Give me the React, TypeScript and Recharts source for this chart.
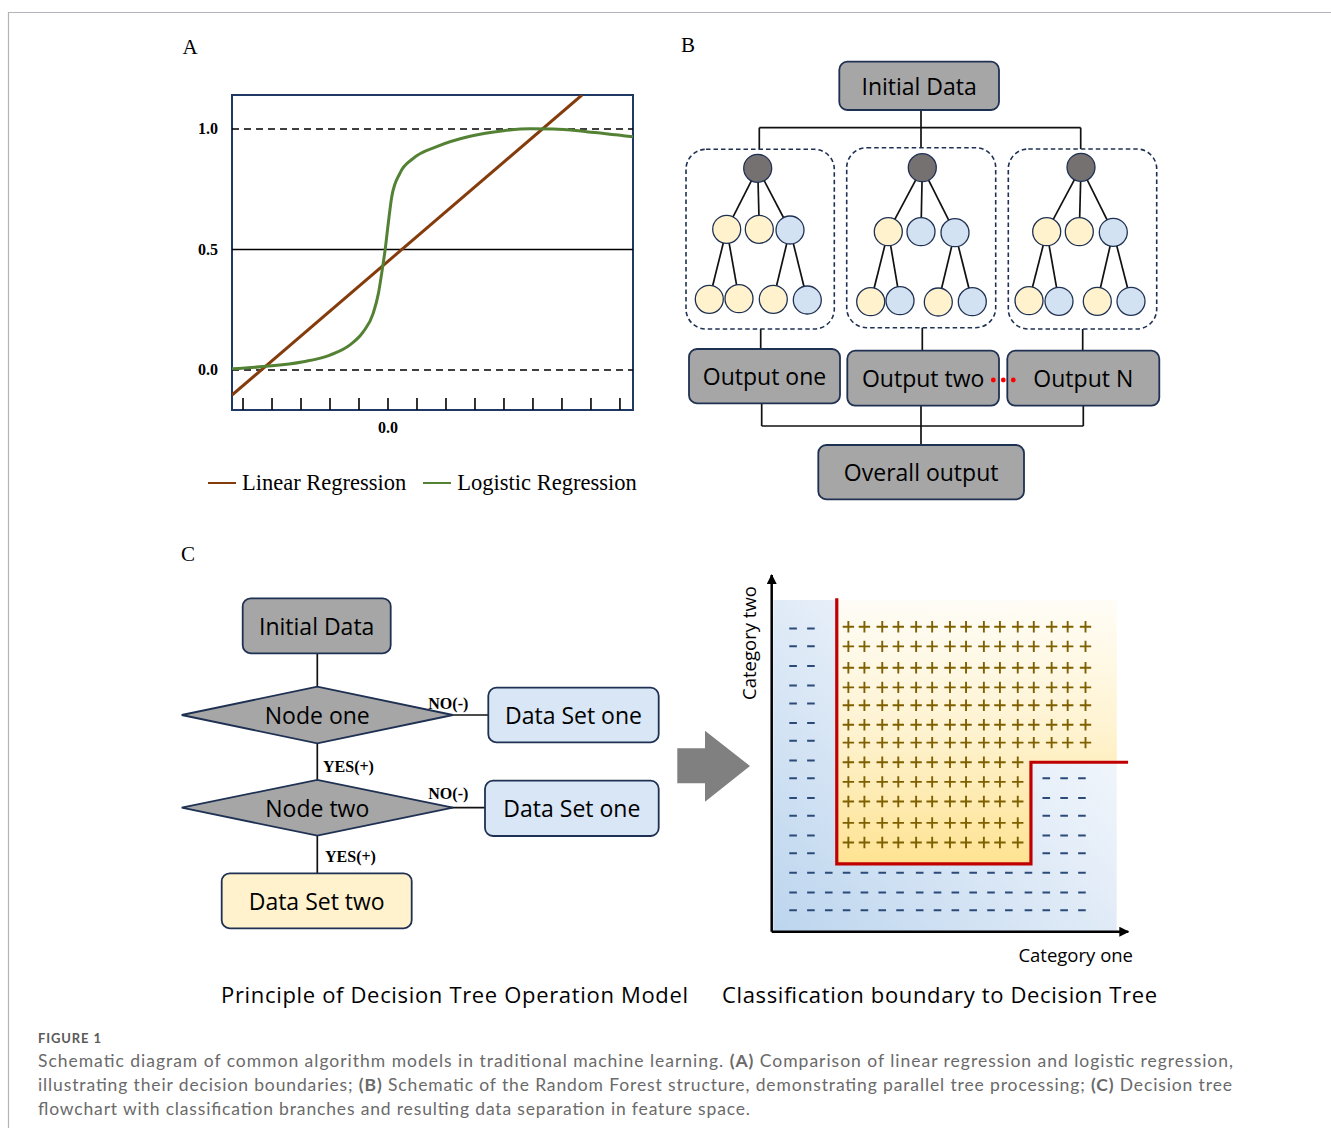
import React from 'react';
import {
  LineChart,
  Line,
  XAxis,
  YAxis,
  ReferenceLine,
  ReferenceArea,
  Legend,
  ScatterChart,
  Scatter,
} from 'recharts';

// ---- Panel A: linear vs logistic regression ----
const linearPoints = [
  { x: -5.38, y: -0.104 },
  { x: 6.69, y: 1.141 },
];
const logisticPoints = [
  { x: -5.38, y: 0.005 },
  { x: -4.3, y: 0.014 },
  { x: -2.92, y: 0.034 },
  { x: -2.0, y: 0.062 },
  { x: -1.31, y: 0.104 },
  { x: -0.85, y: 0.159 },
  { x: -0.51, y: 0.235 },
  { x: -0.33, y: 0.318 },
  { x: -0.2, y: 0.415 },
  { x: -0.1, y: 0.498 },
  { x: 0.01, y: 0.609 },
  { x: 0.13, y: 0.719 },
  { x: 0.41, y: 0.816 },
  { x: 0.87, y: 0.878 },
  { x: 1.68, y: 0.927 },
  { x: 2.83, y: 0.97 },
  { x: 3.98, y: 0.993 },
  { x: 4.9, y: 1.001 },
  { x: 5.7, y: 1.0 },
  { x: 6.85, y: 0.989 },
  { x: 8.45, y: 0.968 },
];
const xTicksA = [-5, -4, -3, -2, -1, 0, 1, 2, 3, 4, 5, 6, 7, 8];
const yTicksA = [0, 0.5, 1];
const xDomainA = [-5.38, 8.45];
const yDomainA = [-0.166, 1.141];

// ---- Panel C: classification grid ----
const plusCols = [4.3, 5.2, 6.2, 7.1, 8.1, 9.0, 10.0, 10.9, 11.9, 12.8, 13.8, 14.7, 15.7, 16.6, 17.6];
const plusRowsWide = [17.1, 16.0, 14.8, 13.7, 12.7, 11.6, 10.6];
const plusRowsNarrow = [9.5, 8.4, 7.3, 6.1, 5.0];
const plusNarrowCount = 11;
const minusLeftCols = [1.2, 2.2];
const minusLeftRows = [17.0, 16.0, 14.9, 13.8, 12.8, 11.7, 10.7, 9.6, 8.6, 7.5, 6.5, 5.4, 4.4];
const minusBottomCols = [1.2, 2.2, 3.2, 4.2, 5.2, 6.2, 7.2, 8.3, 9.3, 10.3, 11.3, 12.3, 13.3, 14.4, 15.4, 16.4, 17.4];
const minusBottomRows = [3.3, 2.2, 1.2];
const minusRightCols = [15.4, 16.4, 17.4];
const minusRightRows = [8.6, 7.5, 6.5, 5.4, 4.4];
const boundary = [
  { x: 3.65, y: 18.7 },
  { x: 3.65, y: 3.8 },
  { x: 14.54, y: 3.8 },
  { x: 14.54, y: 9.5 },
  { x: 20, y: 9.5 },
];

const grid = (cols: number[], rows: number[]) => rows.flatMap(y => cols.map(x => ({ x, y })));
const plusPoints = [...grid(plusCols, plusRowsWide), ...grid(plusCols.slice(0, plusNarrowCount), plusRowsNarrow)];
const minusPoints = [
  ...grid(minusLeftCols, minusLeftRows),
  ...grid(minusBottomCols, minusBottomRows),
  ...grid(minusRightCols, minusRightRows),
];

// ---- Diagram nodes (panel B and C) ----
const forestTrees = [
  {
    root: [757.7, 168.3],
    mid: [[726.7, 229.3, 'c'], [759.3, 229.3, 'c'], [790, 230, 'b']],
    leaves: [[709.3, 299.3, 'c'], [739, 298.7, 'c'], [773.3, 299.3, 'c'], [807.3, 300, 'b']],
  },
  {
    root: [922.3, 167.7],
    mid: [[888.3, 231.7, 'c'], [921, 231.7, 'b'], [955, 232.7, 'b']],
    leaves: [[870.7, 301.7, 'c'], [900, 300.7, 'b'], [938.3, 302, 'c'], [972.3, 301.7, 'b']],
  },
  {
    root: [1081, 167.3],
    mid: [[1046.7, 231.7, 'c'], [1079.3, 231.7, 'c'], [1113.3, 232.3, 'b']],
    leaves: [[1029, 300.7, 'c'], [1059, 301.3, 'b'], [1097.3, 301.3, 'c'], [1131, 301.3, 'b']],
  },
];
const dashedBoxes = [
  [686, 149.3, 148.3, 179.7],
  [846.7, 147.7, 149, 180],
  [1008.3, 149, 148.4, 180],
];
const boxes = [
  { x: 839.3, y: 61.7, w: 159.7, h: 48.3, fill: 'gray', label: 'Initial Data' },
  { x: 689, y: 349, w: 151, h: 54.3, fill: 'gray', label: 'Output one' },
  { x: 847.3, y: 350.7, w: 151.7, h: 55, fill: 'gray', label: 'Output two' },
  { x: 1007.3, y: 350.7, w: 152, h: 55, fill: 'gray', label: 'Output N' },
  { x: 818.3, y: 445, w: 205.7, h: 54.3, fill: 'gray', label: 'Overall output' },
  { x: 242.7, y: 598.3, w: 148, h: 55, fill: 'gray', label: 'Initial Data' },
  { x: 488.3, y: 687.7, w: 170.4, h: 54.6, fill: 'blue', label: 'Data Set one' },
  { x: 485, y: 780.7, w: 173.7, h: 55.3, fill: 'blue', label: 'Data Set one' },
  { x: 221.7, y: 873.3, w: 190, h: 55, fill: 'cream', label: 'Data Set two' },
];
const ellipsisDots = [993.3, 1003.3, 1013.3];
const connectors = [
  [921, 110, 921, 127.7],
  [759.3, 127.7, 1080.7, 127.7],
  [759.3, 127.7, 759.3, 149.3],
  [921, 127.7, 921, 147.7],
  [1080.7, 127.7, 1080.7, 149],
  [760.7, 329, 760.7, 349],
  [922.3, 327.7, 922.3, 350.7],
  [1082.7, 329, 1082.7, 350.7],
  [761.7, 403.3, 761.7, 426],
  [921, 405.7, 921, 445],
  [1083.3, 405.7, 1083.3, 426],
  [761.7, 426, 1083.3, 426],
  [317.3, 653.3, 317.3, 686.7],
  [450, 715, 488.3, 715],
  [317.3, 743.3, 317.3, 780],
  [450, 807.7, 485, 807.7],
  [317.3, 836, 317.3, 873.3],
];
const diamonds = [
  { cx: 317.3, cy: 715, hw: 135.6, hh: 28.3, label: 'Node one' },
  { cx: 317.3, cy: 807.7, hw: 135.6, hh: 27.9, label: 'Node two' },
];
const branchLabels = [
  { x: 448.3, y: 703.3, anchor: 'middle', text: 'NO(-)' },
  { x: 323, y: 766.7, anchor: 'start', text: 'YES(+)' },
  { x: 448.3, y: 793.3, anchor: 'middle', text: 'NO(-)' },
  { x: 325, y: 856.7, anchor: 'start', text: 'YES(+)' },
];

const SERIF = '"Liberation Serif", "Times New Roman", serif';
const SANS = '"Open Sans", "Noto Sans", sans-serif';
const CAPTION = 'Lato, "Open Sans", sans-serif';
const NAVY = '#1f3153';
const FILLS: Record<string, string> = { gray: '#a6a6a6', blue: '#d8e6f5', cream: '#fff2cc' };
const CIRCLE_FILLS: Record<string, string> = { c: '#fff2cc', b: '#d3e2f3' };

const renderYTick = (props: any) => (
  <text
    x={38}
    y={props.y}
    textAnchor="end"
    dominantBaseline="central"
    fontFamily={SERIF}
    fontWeight={700}
    fontSize={16}
    fill="#000"
  >
    {Number(props.payload.value).toFixed(1)}
  </text>
);

const renderXTick = (props: any) =>
  props.payload.value === 0 ? (
    <text x={props.x} y={347} textAnchor="middle" dominantBaseline="central" fontFamily={SERIF} fontWeight={700} fontSize={16} fill="#000">
      0.0
    </text>
  ) : (
    <g />
  );

const RegressionLegend = ({ payload }: any) => (
  <div style={{ display: 'flex', alignItems: 'center', fontFamily: SERIF, fontSize: 22.5, color: '#000', whiteSpace: 'nowrap' }}>
    {(payload || []).map((e: any, i: number) => (
      <div key={i} style={{ display: 'flex', alignItems: 'center', marginLeft: i ? 17 : 0 }}>
        <span style={{ display: 'inline-block', width: 28, borderTop: `2px solid ${e.color}`, marginRight: 6 }} />
        <span>{e.value}</span>
      </div>
    ))}
  </div>
);

const PlusMark = (p: any) => (
  <path d={`M${p.cx - 5.7},${p.cy}H${p.cx + 5.7}M${p.cx},${p.cy - 5.7}V${p.cy + 5.7}`} stroke="#7f6000" strokeWidth={1.9} />
);
const MinusMark = (p: any) => <path d={`M${p.cx - 3.8},${p.cy}H${p.cx + 3.8}`} stroke="#2a4a78" strokeWidth={2} />;
const NoMark = () => <g />;

function RegressionChart() {
  return (
    <div style={{ position: 'absolute', left: 180, top: 80 }}>
      <LineChart width={470} height={370} margin={{ top: 15, right: 17, bottom: 40, left: 12 }}>
        <XAxis
          type="number"
          dataKey="x"
          domain={xDomainA}
          ticks={xTicksA}
          interval={0}
          allowDataOverflow
          mirror
          axisLine={false}
          tickSize={12}
          stroke="#000"
          tickLine={{ stroke: '#000', strokeWidth: 1.6 }}
          tick={renderXTick}
        />
        <YAxis
          type="number"
          dataKey="y"
          domain={yDomainA}
          ticks={yTicksA}
          interval={0}
          allowDataOverflow
          width={40}
          axisLine={false}
          tickLine={false}
          tick={renderYTick}
        />
        <ReferenceArea
          x1={xDomainA[0]}
          x2={xDomainA[1]}
          y1={yDomainA[0]}
          y2={yDomainA[1]}
          fill="none"
          fillOpacity={0}
          stroke="#1f3864"
          strokeWidth={2}
        />
        <ReferenceLine y={1} stroke="#000" strokeWidth={1.6} strokeDasharray="7 5" />
        <ReferenceLine y={0.5} stroke="#000" strokeWidth={1.6} />
        <ReferenceLine y={0} stroke="#000" strokeWidth={1.6} strokeDasharray="7 5" />
        <Line
          data={linearPoints}
          dataKey="y"
          name="Linear Regression"
          type="linear"
          stroke="#843c0c"
          strokeWidth={3}
          dot={false}
          isAnimationActive={false}
        />
        <Line
          data={logisticPoints}
          dataKey="y"
          name="Logistic Regression"
          type="monotone"
          stroke="#548235"
          strokeWidth={3}
          dot={false}
          isAnimationActive={false}
        />
        <Legend
          layout="horizontal"
          verticalAlign="middle"
          align="center"
          content={<RegressionLegend />}
          wrapperStyle={{ left: 28, top: 390, width: 'auto', height: 'auto' }}
        />
      </LineChart>
    </div>
  );
}

function BoundaryChart() {
  return (
    <div style={{ position: 'absolute', left: 700, top: 560 }}>
      <ScatterChart width={450} height={400} margin={{ top: 15, right: 21.7, bottom: 28.3, left: 71.7 }}>
        <XAxis
          type="number"
          dataKey="x"
          domain={[0, 20]}
          allowDataOverflow
          mirror
          tick={false}
          tickLine={false}
          axisLine={{ stroke: '#000', strokeWidth: 2.5, markerEnd: 'url(#axisArrow)' }}
        />
        <YAxis
          type="number"
          dataKey="y"
          domain={[0, 20]}
          allowDataOverflow
          mirror
          tick={false}
          tickLine={false}
          axisLine={{ stroke: '#000', strokeWidth: 2.5, markerStart: 'url(#axisArrow)' }}
        />
        <ReferenceArea x1={0.09} x2={19.35} y1={0} y2={18.6} fill="url(#blueGrad)" fillOpacity={1} stroke="none" />
        <ReferenceArea x1={3.65} x2={19.35} y1={9.5} y2={18.6} fill="url(#yellowGrad)" fillOpacity={1} stroke="none" />
        <ReferenceArea x1={3.65} x2={14.54} y1={3.8} y2={9.5} fill="url(#yellowGrad)" fillOpacity={1} stroke="none" />
        <Scatter data={minusPoints} shape={MinusMark} isAnimationActive={false} />
        <Scatter data={plusPoints} shape={PlusMark} isAnimationActive={false} />
        <Scatter
          data={boundary}
          shape={NoMark}
          line={{ stroke: '#c00000', strokeWidth: 3.2 }}
          lineType="joint"
          isAnimationActive={false}
        />
      </ScatterChart>
    </div>
  );
}

function Diagrams() {
  return (
    <svg width={1331} height={1128} style={{ position: 'absolute', left: 0, top: 0 }}>
      <defs>
        <marker
          id="axisArrow"
          viewBox="0 0 10 10"
          refX={9}
          refY={5}
          markerWidth={11}
          markerHeight={10}
          markerUnits="userSpaceOnUse"
          orient="auto-start-reverse"
        >
          <path d="M0,0 L10,5 L0,10 z" fill="#000" />
        </marker>
        <linearGradient id="blueGrad" x1="0" y1="1" x2="1" y2="0">
          <stop offset="0" stopColor="#bcd5ee" />
          <stop offset="0.55" stopColor="#e4edf8" />
          <stop offset="1" stopColor="#ffffff" />
        </linearGradient>
        <linearGradient id="yellowGrad" gradientUnits="userSpaceOnUse" x1="0" y1="38" x2="0" y2="304">
          <stop offset="0" stopColor="#fffdf7" stopOpacity={0.95} />
          <stop offset="0.5" stopColor="#fff3cf" stopOpacity={0.97} />
          <stop offset="1" stopColor="#ffe392" />
        </linearGradient>
      </defs>

      {/* page frame */}
      <line x1={8} y1={12.5} x2={1331} y2={12.5} stroke="#b4b4ba" strokeWidth={1.2} />
      <line x1={8.5} y1={12} x2={8.5} y2={1128} stroke="#b4b4ba" strokeWidth={1.2} />

      {/* panel letters */}
      <text x={190} y={54} textAnchor="middle" fontFamily={SERIF} fontSize={21}>A</text>
      <text x={688} y={52} textAnchor="middle" fontFamily={SERIF} fontSize={21}>B</text>
      <text x={188} y={561} textAnchor="middle" fontFamily={SERIF} fontSize={21}>C</text>

      {/* connectors */}
      {connectors.map(([x1, y1, x2, y2], i) => (
        <line key={i} x1={x1} y1={y1} x2={x2} y2={y2} stroke="#111" strokeWidth={1.7} />
      ))}

      {/* random forest */}
      {dashedBoxes.map(([x, y, w, h], i) => (
        <rect key={i} x={x} y={y} width={w} height={h} rx={20} fill="none" stroke={NAVY} strokeWidth={1.6} strokeDasharray="4.5 3" />
      ))}
      {forestTrees.map((t, i) => {
        const edges = [
          ...t.mid.map(m => [t.root, m]),
          [t.mid[0], t.leaves[0]],
          [t.mid[0], t.leaves[1]],
          [t.mid[2], t.leaves[2]],
          [t.mid[2], t.leaves[3]],
        ];
        return (
          <g key={i}>
            {edges.map(([a, b]: any, j) => (
              <line key={j} x1={a[0]} y1={a[1]} x2={b[0]} y2={b[1]} stroke="#111" strokeWidth={1.7} />
            ))}
            <circle cx={t.root[0]} cy={t.root[1]} r={14} fill="#767171" stroke={NAVY} strokeWidth={1.3} />
            {[...t.mid, ...t.leaves].map((n: any, j) => (
              <circle key={j} cx={n[0]} cy={n[1]} r={14} fill={CIRCLE_FILLS[n[2]]} stroke={NAVY} strokeWidth={1.3} />
            ))}
          </g>
        );
      })}

      {/* decision tree */}
      {diamonds.map((d, i) => (
        <g key={i}>
          <polygon
            points={`${d.cx - d.hw},${d.cy} ${d.cx},${d.cy - d.hh} ${d.cx + d.hw},${d.cy} ${d.cx},${d.cy + d.hh}`}
            fill="#a6a6a6"
            stroke={NAVY}
            strokeWidth={1.8}
          />
          <text x={d.cx} y={d.cy} textAnchor="middle" dominantBaseline="central" fontFamily={SANS} fontSize={23} fill="#000">
            {d.label}
          </text>
        </g>
      ))}
      {branchLabels.map((b, i) => (
        <text key={i} x={b.x} y={b.y} textAnchor={b.anchor as any} dominantBaseline="central" fontFamily={SERIF} fontWeight={700} fontSize={16}>
          {b.text}
        </text>
      ))}

      {boxes.map((b, i) => (
        <g key={i}>
          <rect x={b.x} y={b.y} width={b.w} height={b.h} rx={8} fill={FILLS[b.fill]} stroke={NAVY} strokeWidth={1.8} />
          <text x={b.x + b.w / 2} y={b.y + b.h / 2} textAnchor="middle" dominantBaseline="central" fontFamily={SANS} fontSize={23} fill="#000">
            {b.label}
          </text>
        </g>
      ))}

      {/* red ellipsis between outputs */}
      {ellipsisDots.map(x => (
        <circle key={x} cx={x} cy={380} r={2.4} fill="#ff0000" />
      ))}

      {/* arrow between flowchart and feature space */}
      <polygon points="677.3,748.3 705,748.3 705,730.7 750,766 705,801.7 705,783.3 677.3,783.3" fill="#808080" />

      {/* feature space axis labels */}
      <text x={748} y={643} transform="rotate(-90 748 643)" textAnchor="middle" dominantBaseline="central" fontFamily={SANS} fontSize={18.5}>
        Category two
      </text>
      <text x={1133} y={954} textAnchor="end" dominantBaseline="central" fontFamily={SANS} fontSize={18.5}>
        Category one
      </text>

      {/* panel C titles */}
      <text x={221} y={994} dominantBaseline="central" fontFamily={SANS} fontSize={22} textLength={467} lengthAdjust="spacing">
        Principle of Decision Tree Operation Model
      </text>
      <text x={722} y={994} dominantBaseline="central" fontFamily={SANS} fontSize={22} textLength={435} lengthAdjust="spacing">
        Classification boundary to Decision Tree
      </text>

      {/* caption */}
      <text x={38} y={1043} fontFamily={CAPTION} fontSize={13} fontWeight={700} fill="#5a5a5a" textLength={63} lengthAdjust="spacing">
        FIGURE 1
      </text>
      <text x={38} y={1067} fontFamily={CAPTION} fontSize={17.5} fill="#6a6a6a" textLength={1195} lengthAdjust="spacing">
        Schematic diagram of common algorithm models in traditional machine learning. <tspan fontWeight={700}>(A)</tspan> Comparison of linear regression and logistic regression,
      </text>
      <text x={38} y={1091} fontFamily={CAPTION} fontSize={17.5} fill="#6a6a6a" textLength={1194} lengthAdjust="spacing">
        illustrating their decision boundaries; <tspan fontWeight={700}>(B)</tspan> Schematic of the Random Forest structure, demonstrating parallel tree processing; <tspan fontWeight={700}>(C)</tspan> Decision tree
      </text>
      <text x={38} y={1115} fontFamily={CAPTION} fontSize={17.5} fill="#6a6a6a" textLength={712} lengthAdjust="spacing">
        flowchart with classification branches and resulting data separation in feature space.
      </text>
    </svg>
  );
}

export default function App() {
  return (
    <div style={{ position: 'absolute', left: 0, top: 0, width: 1331, height: 1128, background: '#fff', overflow: 'hidden' }}>
      <Diagrams />
      <RegressionChart />
      <BoundaryChart />
    </div>
  );
}
